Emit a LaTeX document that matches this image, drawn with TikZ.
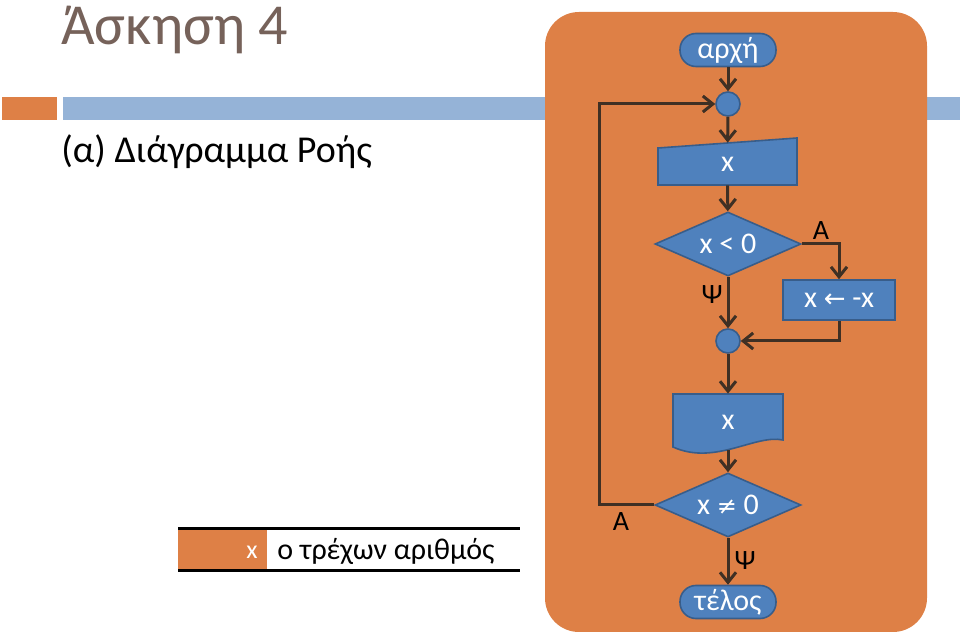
\documentclass[tikz,border=0pt]{standalone}
\usepackage{fontspec}
\setmainfont{Carlito}
\newfontfamily\symfont{DejaVu Sans}
\usetikzlibrary{arrows.meta,positioning,calc,shapes.geometric}
\definecolor{panel}{HTML}{DE8046}
\definecolor{shape}{HTML}{4F81BD}
\definecolor{edge}{HTML}{385D8A}
\definecolor{barblue}{HTML}{95B3D7}
\definecolor{title}{HTML}{76625A}
\definecolor{wire}{HTML}{3F3024}
\tikzset{term/.style={fill=shape,draw=edge,line width=0.8pt,rounded corners=8pt,minimum width=48pt,minimum height=16.5pt,inner sep=0pt,text=white,font=\fontsize{15}{17}\selectfont},junc/.style={circle,fill=shape,draw=edge,line width=0.8pt,minimum size=12pt,inner sep=0pt},proc/.style={fill=shape,draw=edge,line width=0.8pt,minimum width=56pt,minimum height=20pt,inner sep=0pt,text=white,font=\fontsize{15}{17}\selectfont},dec/.style={diamond,aspect=2.3,fill=shape,draw=edge,line width=0.8pt,minimum width=73pt,minimum height=32pt,inner sep=0pt,text=white,font=\fontsize{15}{17}\selectfont},plain/.style={inner sep=0pt,text=white,font=\fontsize{15}{17}\selectfont},outline/.style={fill=shape,draw=edge,line width=0.8pt},arrow/.style={-{Straight Barb[length=5pt,width=8pt]},line width=1.5pt,draw=wire},lab/.style={font=\fontsize{14}{16}\selectfont,inner sep=1pt}}

\begin{document}
\begin{tikzpicture}[x=0.5pt,y=-0.5pt]
\useasboundingbox (0,0) rectangle (960,636);
\node[anchor=base west,text=title,font=\fontsize{29}{33}\selectfont,inner sep=0pt] (head) at (61,45) {Άσκηση 4};
\fill[panel] (2,97) rectangle (57,120);
\fill[barblue] (63,97) rectangle (960,120);
\node[anchor=base west,font=\fontsize{19}{23}\selectfont,inner sep=0pt] (sub) at (61,163) {(α) Διάγραμμα Ροής};
\fill[panel,rounded corners=17pt] (545,12) rectangle (927,632);
% legend
\fill[panel] (178,530) rectangle (267,570);
\draw[line width=1.5pt] (178,529) -- (520,529) (178,571) -- (520,571);
\node[anchor=east,text=white,font=\fontsize{13}{15}\selectfont,inner sep=0pt] (var) at (258,552) {x};
\node[anchor=west,font=\fontsize{15}{17}\selectfont,inner sep=0pt] (desc) at (277,551) {ο τρέχων αριθμός};
% flowchart
\node[term] (start) at (728,50) {αρχή};
\node[junc] (j1) at (728,104) {};
\draw[outline] (658,185) -- (658,148) -- (797,138) -- (797,185) -- cycle;
\node[plain,minimum width=69.5pt,minimum height=21pt] (read) at (727.5,164) {x};
\node[dec] (test) at (728,244) {x < 0};
\node[proc] (neg) at (839,300) {x {\symfont\fontsize{13}{15}\selectfont ←} -x};
\node[junc] (j2) at (728,341) {};
\draw[outline] (673,394) -- (783,394) -- (783,440) .. controls (755,434) and (715,466) .. (673,447) -- cycle;
\node[plain,minimum width=55pt,minimum height=28pt] (print) at (728,422) {x};
\node[dec] (check) at (728,505) {x {\symfont\fontsize{12}{14}\selectfont ≠} 0};
\node[term] (stop) at (728,602) {τέλος};
\draw[arrow] (start) -- (j1);
\draw[arrow] (j1) -- (read);
\draw[arrow] (read) -- (test);
\draw[arrow] (test.east) -| (neg.north);
\draw[arrow] (test.south) -- (j2);
\draw[arrow] (neg.south) |- (j2.east);
\draw[arrow] (j2) -- (print);
\draw[arrow] (print) -- (check);
\draw[arrow] (check.west) -- ++(-55,0) |- (j1.west);
\draw[arrow] (check.south) -- (stop);
\node[lab] (yes1) at (821,231) {Α};
\node[lab] (no1) at (712,295) {Ψ};
\node[lab] (yes2) at (621,522) {Α};
\node[lab] (no2) at (745,561) {Ψ};
\end{tikzpicture}
\end{document}
